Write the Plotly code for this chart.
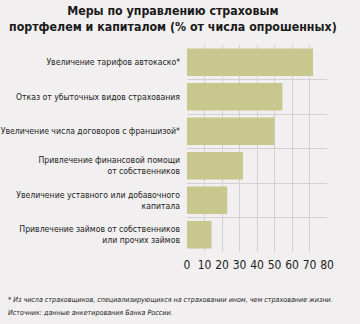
import plotly.graph_objects as go

# Survey answers, listed top to bottom
categories = [
    "Увеличение тарифов автокаско*",
    "Отказ от убыточных видов страхования",
    "Увеличение числа договоров с франшизой*",
    "Привлечение финансовой помощи<br>от собственников",
    "Увеличение уставного или добавочного<br>капитала",
    "Привлечение займов от собственников<br>или прочих займов",
]
shares = [72, 54.5, 50, 32, 23, 14]
x_ticks = [0, 10, 20, 30, 40, 50, 60, 70, 80]
footnotes = [
    "* Из числа страховщиков, специализирующихся на страховании ином, чем страхование жизни.",
    "Источник: данные анкетирования Банка России.",
]

FONT = "DejaVu Sans Condensed, sans-serif"
BG = "#f1efef"
GRID = "#d2d0d0"
BAR = "#c8c88e"

pos = list(range(len(categories)))

fig = go.Figure(
    go.Bar(
        x=shares,
        y=pos,
        orientation="h",
        marker=dict(color=BAR, line=dict(width=0)),
        width=0.8,
        hoverinfo="x",
    )
)

fig.update_layout(
    width=360,
    height=324,
    margin=dict(l=187, r=33, t=45, b=72, autoexpand=False),
    paper_bgcolor=BG,
    plot_bgcolor=BG,
    showlegend=False,
    font=dict(family=FONT, color="#222222"),
)

fig.update_xaxes(
    range=[0, 80],
    tickvals=x_ticks,
    tickangle=0,
    automargin=False,
    showgrid=True,
    gridcolor=GRID,
    gridwidth=1,
    zeroline=False,
    showline=False,
    ticks="",
    ticklabelstandoff=4,
    tickfont=dict(size=12, family=FONT, color="#222222"),
    fixedrange=True,
    layer="below traces",
)

fig.update_yaxes(
    range=[5.5, -0.5],
    tickvals=pos,
    ticktext=categories,
    automargin=False,
    showgrid=False,
    zeroline=False,
    showline=False,
    ticks="",
    ticklabelstandoff=6,
    tickfont=dict(size=8.6, family=FONT, color="#222222"),
    minor=dict(
        tickmode="array",
        tickvals=[p - 0.5 for p in pos] + [pos[-1] + 0.5],
        showgrid=True,
        gridcolor=GRID,
        gridwidth=1,
        ticks="",
    ),
    fixedrange=True,
)

# Title
fig.add_annotation(
    text="<b>Меры по управлению страховым<br>портфелем и капиталом (% от числа опрошенных)</b>",
    xref="paper",
    yref="paper",
    x=(173 - 187) / 140,
    y=1 + 43 / 207,
    xanchor="center",
    yanchor="top",
    align="center",
    showarrow=False,
    font=dict(size=12.3, family=FONT, color="#1a1a1a"),
)

# Footnote lines
for i, line in enumerate(footnotes):
    fig.add_annotation(
        text=f"<i>{line}</i>",
        xref="paper",
        yref="paper",
        x=(6 - 187) / 140,
        y=-(299 + 13 * i - 252) / 207,
        xanchor="left",
        yanchor="middle",
        align="left",
        showarrow=False,
        font=dict(size=7.1, family=FONT, color="#222222"),
    )

fig.write_html("out.html")
